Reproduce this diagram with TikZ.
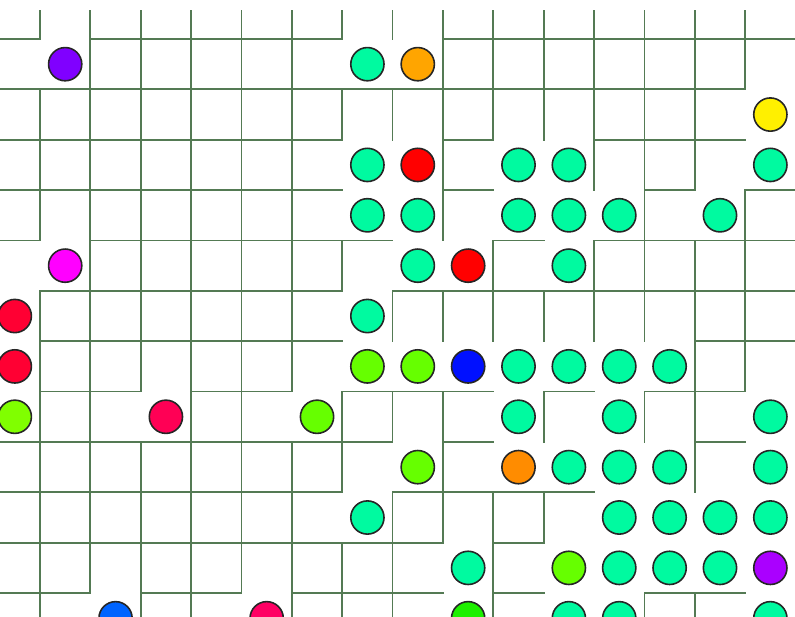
\documentclass[tikz,border=0pt]{standalone}

\definecolor{MazeWall}{RGB}{84,122,84}
\definecolor{BallGreen}{RGB}{0,250,160}
\definecolor{BallLime}{RGB}{102,255,0}
\definecolor{BallYellowGreen}{RGB}{128,255,0}
\definecolor{BallBrightGreen}{RGB}{30,240,0}
\definecolor{BallRed}{RGB}{255,0,0}
\definecolor{BallCrimson}{RGB}{255,0,51}
\definecolor{BallRose}{RGB}{255,0,85}
\definecolor{BallPink}{RGB}{255,0,100}
\definecolor{BallOrange}{RGB}{255,165,0}
\definecolor{BallDarkOrange}{RGB}{255,140,0}
\definecolor{BallYellow}{RGB}{255,240,0}
\definecolor{BallMagenta}{RGB}{255,0,255}
\definecolor{BallViolet}{RGB}{128,0,255}
\definecolor{BallPurple}{RGB}{170,0,255}
\definecolor{BallBlue}{RGB}{0,16,255}
\definecolor{BallSky}{RGB}{0,100,255}

\begin{document}
\begin{tikzpicture}[x=0.5cm,y=-0.5cm,
  wall/.style={draw=MazeWall,line width=0.5pt,line cap=rect},
  ball/.style={draw=black!85,line width=0.45pt}]
  % One unit per cell, y grows downwards; wall line i sits at x=i, y=i.
  \newcommand{\hwalls}[2]{%
    \foreach \b [count=\c from 0] in {#2} {
      \ifnum\b=1 \draw[wall] (\c-1,#1) -- (\c,#1); \fi
    }
  }
  \newcommand{\vwalls}[2]{%
    \foreach \b [count=\r from 0] in {#2} {
      \ifnum\b=1 \draw[wall] (#1,\r-1) -- (#1,\r); \fi
    }
  }
  \newcommand{\mazeball}[3]{\draw[ball,fill=#3] (#1-0.5,#2-0.5) circle[radius=0.33];}

  \useasboundingbox (-0.794,-0.774) rectangle (14.989,11.475);
  \clip (-0.794,-0.556) rectangle (14.989,11.475);

  % horizontal walls, one flag per column
  \hwalls{0}{1,0,1,1,1,1,1,0,0,1,1,1,1,1,1,1}
  \hwalls{1}{1,1,1,1,1,1,1,1,1,1,1,1,1,1,1,0}
  \hwalls{2}{1,1,1,1,1,1,1,0,0,1,0,0,1,1,1,0}
  \hwalls{3}{1,1,1,1,1,1,1,0,0,1,0,0,0,1,0,1}
  \hwalls{4}{1,0,1,1,1,1,1,1,0,0,1,0,1,1,1,1}
  \hwalls{5}{0,1,1,1,1,1,1,0,1,1,1,1,1,1,1,1}
  \hwalls{6}{0,1,1,1,1,1,1,0,0,0,0,0,0,0,1,1}
  \hwalls{7}{0,1,1,0,1,1,0,1,1,1,0,1,0,1,1,0}
  \hwalls{8}{1,1,1,1,1,1,1,1,0,1,0,0,0,0,1,0}
  \hwalls{9}{1,1,1,1,1,1,1,0,1,1,1,1,0,0,0,0}
  \hwalls{10}{1,1,1,1,1,1,1,1,1,0,1,0,0,0,0,0}
  \hwalls{11}{1,1,0,1,1,0,1,1,1,0,1,0,0,1,1,0}

  % vertical walls, one flag per row
  \vwalls{0}{1,0,1,1,1,0,1,1,1,1,1,1,1}
  \vwalls{1}{1,1,1,1,1,1,1,1,1,1,1,1,0}
  \vwalls{2}{1,1,1,1,1,1,1,1,0,1,1,1,1}
  \vwalls{3}{1,1,1,1,1,1,1,1,1,1,1,1,1}
  \vwalls{4}{1,1,1,1,1,1,1,1,1,1,1,1,0}
  \vwalls{5}{1,1,1,1,1,1,1,1,0,1,1,1,1}
  \vwalls{6}{1,0,1,0,0,1,0,0,1,1,0,1,1}
  \vwalls{7}{1,0,1,0,0,0,1,0,1,0,1,1,1}
  \vwalls{8}{1,1,1,1,1,0,1,0,1,1,1,0,0}
  \vwalls{9}{1,1,1,0,0,1,1,0,0,0,1,1,1}
  \vwalls{10}{1,1,1,0,0,0,1,0,1,0,1,0,0}
  \vwalls{11}{1,1,1,1,0,1,1,0,0,0,0,0,0}
  \vwalls{12}{1,1,1,1,1,1,1,0,1,0,0,0,1}
  \vwalls{13}{1,1,1,1,0,1,1,1,1,1,0,0,1}
  \vwalls{14}{1,1,0,0,1,1,1,1,0,0,0,0,0}

  % balls: column/row
  \foreach \c/\r in {7/1,7/3,10/3,11/3,15/3,7/4,8/4,10/4,11/4,12/4,14/4,
                     8/5,11/5,7/6,10/7,11/7,12/7,13/7,10/8,12/8,15/8,
                     11/9,12/9,13/9,15/9,7/10,12/10,13/10,14/10,15/10,
                     9/11,12/11,13/11,14/11,11/12,12/12,15/12}
    \mazeball{\c}{\r}{BallGreen};
  \foreach \c/\r in {7/7,8/7,6/8,8/9,11/11}
    \mazeball{\c}{\r}{BallLime};

  \mazeball{1}{1}{BallViolet}
  \mazeball{8}{1}{BallOrange}
  \mazeball{15}{2}{BallYellow}
  \mazeball{8}{3}{BallRed}
  \mazeball{1}{5}{BallMagenta}
  \mazeball{9}{5}{BallRed}
  \mazeball{0}{6}{BallCrimson}
  \mazeball{0}{7}{BallCrimson}
  \mazeball{9}{7}{BallBlue}
  \mazeball{0}{8}{BallYellowGreen}
  \mazeball{3}{8}{BallRose}
  \mazeball{10}{9}{BallDarkOrange}
  \mazeball{15}{11}{BallPurple}
  \mazeball{2}{12}{BallSky}
  \mazeball{5}{12}{BallPink}
  \mazeball{9}{12}{BallBrightGreen}
\end{tikzpicture}
\end{document}
